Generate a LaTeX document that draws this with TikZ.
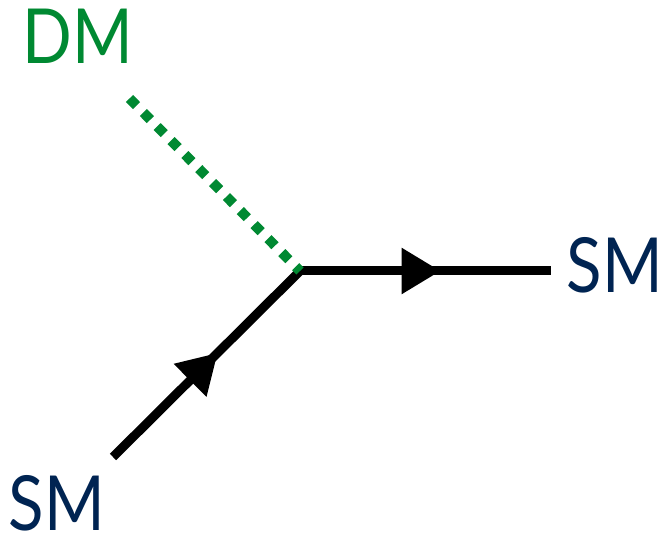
\documentclass[tikz,border=0pt]{standalone}
\usepackage{fontspec}
\setmainfont{Lato}
\usetikzlibrary{arrows.meta,decorations.markings}
\definecolor{dmgreen}{RGB}{0,137,50}
\definecolor{smnavy}{RGB}{0,36,82}
\tikzset{
  fermion/.style={line width=9pt, black, postaction={decorate},
    decoration={markings, mark=at position 0.56 with {\arrow{Triangle[length=39pt,width=44pt]}}}},
  scalar/.style={line width=10pt, dmgreen, line cap=butt, dash pattern=on 10pt off 9.7pt},
  lbl/.style={anchor=base, inner sep=0pt, text depth=0pt, font=\fontsize{76}{76}\selectfont},
}
\begin{document}
\begin{tikzpicture}[x=1pt,y=-1pt]
  \useasboundingbox (0,0) rectangle (662,537);
  \coordinate (v) at (300,271);
  \coordinate (a) at (113,457);
  \coordinate (b) at (551,271);
  \coordinate (d) at (129.5,98.5);
  \draw[fermion] (a) -- (v);
  \draw[fermion] (v) -- (b);
  \draw[scalar] (d) -- (v);
  \node[lbl, text=dmgreen] (dmlbl) at (78,63.3) {\scalebox{0.86}[1]{DM}};
  \node[lbl, text=smnavy] (smout) at (615,292.7) {\scalebox{0.86}[1]{SM}};
  \node[lbl, text=smnavy] (smin) at (57,530) {\scalebox{0.86}[1]{SM}};
\end{tikzpicture}
\end{document}
